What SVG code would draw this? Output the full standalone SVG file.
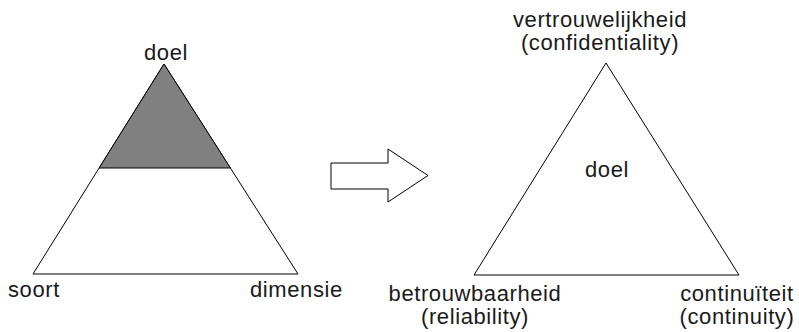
<svg xmlns="http://www.w3.org/2000/svg" width="799" height="332" viewBox="0 0 799 332">
  <style>
    .shape { fill: #ffffff; stroke: #000000; stroke-width: 1; stroke-linejoin: miter; }
    .band { fill: #808080; stroke: #000000; stroke-width: 1; }
    .label { font-family: "Liberation Sans", Arial, sans-serif; font-size: 22px; letter-spacing: 0.6px; fill: #1a1a1a; }
    .mid { text-anchor: middle; }
  </style>
  <rect width="799" height="332" fill="#ffffff"/>

  <!-- Left pyramid: top band shaded -->
  <g id="pyramid">
    <polygon class="shape" points="164,64 33,274 298,274"/>
    <polygon class="band" points="164,64 99.1,168 230.4,168"/>
    <text class="label mid" x="166" y="60">doel</text>
    <text class="label" x="8" y="297">soort</text>
    <text class="label" x="250" y="297">dimensie</text>
  </g>

  <!-- Block arrow between the two triangles -->
  <g id="connectors">
    <polygon class="shape" points="331,163 388,163 388,149 428,175.5 388,202 388,189 331,189"/>
  </g>

  <!-- Right triangle: three aspects around the goal -->
  <g id="triangle">
    <polygon class="shape" points="606,63 474,275 739,275"/>
    <text class="label mid" x="607" y="177">doel</text>
  </g>
  <g id="label-confidentiality">
    <text class="label mid" x="600" y="27">vertrouwelijkheid</text>
    <text class="label mid" x="600" y="50">(confidentiality)</text>
  </g>
  <g id="label-reliability">
    <text class="label mid" x="475" y="301">betrouwbaarheid</text>
    <text class="label mid" x="475" y="324">(reliability)</text>
  </g>
  <g id="label-continuity">
    <text class="label mid" x="737" y="301">continuïteit</text>
    <text class="label mid" x="737" y="324">(continuity)</text>
  </g>
</svg>
